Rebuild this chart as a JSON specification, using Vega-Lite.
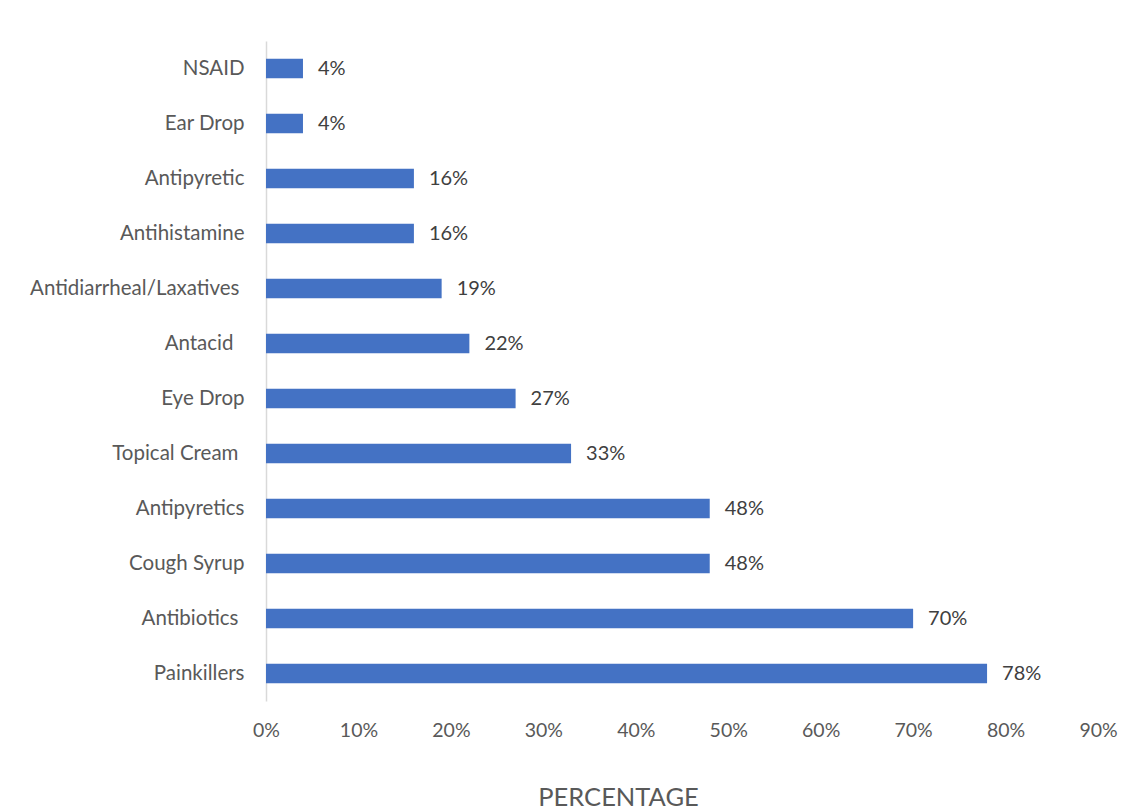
{
  "$schema": "https://vega.github.io/schema/vega-lite/v6.json",
  "width": 832,
  "height": 660,
  "autosize": {"type": "none"},
  "padding": {"left": 266, "top": 41, "right": 35, "bottom": 111},
  "background": "white",
  "config": {
    "font": "Lato",
    "view": {"stroke": null}
  },
  "data": {
    "values": [
      {"category": "NSAID", "value": 0.04},
      {"category": "Ear Drop", "value": 0.04},
      {"category": "Antipyretic", "value": 0.16},
      {"category": "Antihistamine", "value": 0.16},
      {"category": "Antidiarrheal/Laxatives", "value": 0.19},
      {"category": "Antacid", "value": 0.22},
      {"category": "Eye Drop", "value": 0.27},
      {"category": "Topical Cream", "value": 0.33},
      {"category": "Antipyretics", "value": 0.48},
      {"category": "Cough Syrup", "value": 0.48},
      {"category": "Antibiotics", "value": 0.70},
      {"category": "Painkillers", "value": 0.78}
    ]
  },
  "encoding": {
    "y": {
      "field": "category",
      "type": "nominal",
      "sort": null,
      "scale": {"paddingInner": 0.645, "paddingOuter": 0.3225},
      "axis": {
        "title": null,
        "domain": true,
        "domainColor": "#d9d9d9",
        "domainWidth": 1.5,
        "ticks": false,
        "labelPadding": {"expr": "datum.value == 'Antacid' ? 33 : (datum.value == 'Antidiarrheal/Laxatives' ? 27 : ((datum.value == 'Topical Cream' || datum.value == 'Antibiotics') ? 28 : 22))"},
        "labelFontSize": 20.5,
        "labelLimit": 400,
        "labelColor": "#595959",
        "labelFont": "Lato"
      }
    },
    "x": {
      "field": "value",
      "type": "quantitative",
      "scale": {"domain": [0, 0.9], "nice": false},
      "axis": {
        "format": ".0%",
        "values": [0, 0.1, 0.2, 0.3, 0.4, 0.5, 0.6, 0.7, 0.8, 0.9],
        "labelOverlap": false,
        "labelFlush": false,
        "grid": false,
        "domain": false,
        "ticks": false,
        "labelPadding": 20,
        "labelFontSize": 19.5,
        "labelColor": "#595959",
        "labelFont": "Lato",
        "title": "PERCENTAGE",
        "titleFont": "Lato",
        "titleFontWeight": "normal",
        "titleFontSize": 25.5,
        "titleColor": "#595959",
        "titleX": 352,
        "titleY": 104,
        "titleBaseline": "alphabetic",
        "titleAnchor": "middle"
      }
    }
  },
  "layer": [
    {"mark": {"type": "bar", "color": "#4472C4"}},
    {
      "mark": {"type": "text", "align": "left", "baseline": "middle", "dx": 15, "fontSize": 20, "color": "#404040", "font": "Lato"},
      "encoding": {"text": {"field": "value", "type": "quantitative", "format": ".0%"}}
    }
  ]
}
